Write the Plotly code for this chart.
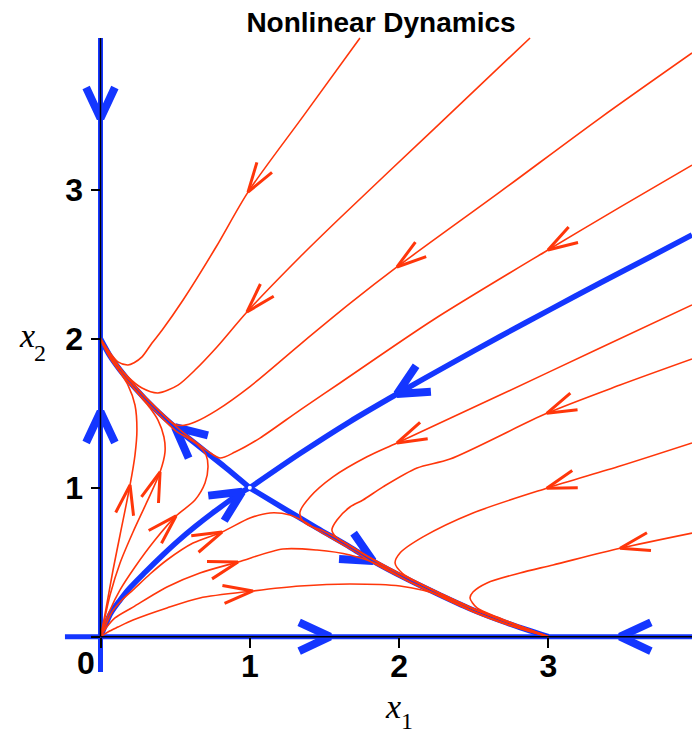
import math
import plotly.graph_objects as go

# ---------------------------------------------------------------------------
# Figure geometry and axis ranges (x1 horizontal, x2 vertical)
# ---------------------------------------------------------------------------
W, H = 692, 735
X_RANGE = [-0.6731, 3.9618]
Y_RANGE = [-0.6602, 4.2760]

RED = "#ff360a"
BLUE = "#1436ff"

# Tick values / labels
tick_vals = [0, 1, 2, 3]
tick_text = ["", "1", "2", "3"]

# Invariant axes (blue) and plain axis lines (black)
axis_blue_x1 = [-0.238, 3.962]
axis_blue_x2 = [-0.237, 4.021]
axis_black_x1 = [0.0, 3.962]
axis_black_x2 = [0.0, 4.021]

# Flow direction markers on the axes
axis_arrow_x1 = [0.0, 0.0, 1.537, 3.480]
axis_arrow_x2 = [3.481, 1.511, 0.0, 0.0]
axis_arrow_dx = [0, 0, 1, -1]
axis_arrow_dy = [-1, 1, 0, 0]

# ---------------------------------------------------------------------------
# Separatrices of the saddle at (1, 1)
# ---------------------------------------------------------------------------
sep_in_upper_x1 = [3.962, 3.681, 3.346, 3.011, 2.676, 2.341, 1.986, 1.671, 1.336, 1.0]
sep_in_upper_x2 = [2.698, 2.550, 2.375, 2.197, 2.016, 1.831, 1.630, 1.445, 1.230, 1.0]
sep_in_lower_x1 = [0.0, 0.030, 0.070, 0.131, 0.184, 0.298, 0.412, 0.519, 0.633, 0.747, 0.854, 0.948, 1.0]
sep_in_lower_x2 = [0.0, 0.072, 0.160, 0.246, 0.314, 0.432, 0.544, 0.643, 0.739, 0.828, 0.907, 0.973, 1.0]
sep_out_left_x1 = [1.0, 0.834, 0.666, 0.499, 0.365, 0.231, 0.131, 0.064, 0.0]
sep_out_left_x2 = [1.0, 1.139, 1.273, 1.408, 1.529, 1.670, 1.791, 1.885, 2.0]
sep_out_right_x1 = [1.0, 1.222, 1.450, 1.671, 1.825, 2.053, 2.274, 2.495, 2.723, 3.0]
sep_out_right_x2 = [1.0, 0.865, 0.730, 0.602, 0.508, 0.387, 0.280, 0.179, 0.092, 0.0]

saddle_x1 = [1.0]
saddle_x2 = [1.0]

# ---------------------------------------------------------------------------
# Sample trajectories (red), listed in the direction of motion
# ---------------------------------------------------------------------------
red_a_x1 = [1.738, 1.363, 0.988, 0.774, 0.553, 0.412, 0.345, 0.278, 0.225, 0.184, 0.117, 0.050, 0.0]
red_a_x2 = [4.021, 3.503, 2.986, 2.617, 2.261, 2.058, 1.972, 1.879, 1.840, 1.825, 1.846, 1.926, 2.0]

red_b_x1 = [2.877, 2.240, 1.604, 1.336, 0.981, 0.780, 0.633, 0.519, 0.385, 0.278, 0.184, 0.097, 0.0]
red_b_x2 = [4.021, 3.416, 2.812, 2.550, 2.181, 1.946, 1.791, 1.690, 1.637, 1.670, 1.745, 1.850, 2.0]

red_c_x1 = [3.962, 3.346, 2.676, 1.986, 1.671, 1.336, 1.001, 0.780, 0.633, 0.560, 0.499, 0.365, 0.231, 0.131, 0.064, 0.0]
red_c_x2 = [3.920, 3.483, 2.987, 2.483, 2.238, 1.962, 1.680, 1.522, 1.442, 1.420, 1.425, 1.545, 1.683, 1.803, 1.895, 2.0]

red_d_x1 = [3.962, 3.480, 2.997, 2.227, 1.604, 1.336, 1.068, 0.901, 0.800, 0.720, 0.633, 0.520, 0.400, 0.280, 0.170, 0.080, 0.0]
red_d_x2 = [3.167, 2.885, 2.597, 2.127, 1.704, 1.522, 1.334, 1.240, 1.200, 1.245, 1.310, 1.400, 1.510, 1.630, 1.755, 1.870, 2.0]

red_e_x1 = [3.962, 3.346, 2.676, 1.986, 1.785, 1.557, 1.403, 1.336, 1.350, 1.390, 1.490, 1.671, 1.825, 2.053, 2.274, 2.495, 2.723, 3.0]
red_e_x2 = [2.228, 1.939, 1.623, 1.301, 1.208, 1.073, 0.938, 0.837, 0.784, 0.750, 0.712, 0.612, 0.518, 0.397, 0.290, 0.188, 0.100, 0.0]

red_f_x1 = [3.962, 3.480, 2.989, 2.341, 2.120, 1.892, 1.758, 1.671, 1.584, 1.550, 1.577, 1.638, 1.825, 2.053, 2.274, 2.495, 2.723, 3.0]
red_f_x2 = [1.865, 1.690, 1.500, 1.193, 1.133, 1.006, 0.918, 0.871, 0.784, 0.717, 0.670, 0.629, 0.520, 0.399, 0.292, 0.190, 0.102, 0.0]

red_g_x1 = [3.962, 3.480, 2.989, 2.495, 2.160, 2.006, 1.973, 2.020, 2.160, 2.274, 2.495, 2.723, 3.0]
red_g_x2 = [1.301, 1.146, 0.997, 0.831, 0.670, 0.562, 0.495, 0.428, 0.347, 0.290, 0.188, 0.100, 0.0]

red_h_x1 = [3.962, 3.480, 3.031, 2.810, 2.589, 2.495, 2.475, 2.522, 2.656, 2.723, 2.850, 3.0]
red_h_x2 = [0.696, 0.594, 0.482, 0.428, 0.361, 0.300, 0.260, 0.193, 0.132, 0.106, 0.056, 0.0]

red_o1_x1 = [0.0, 0.023, 0.050, 0.084, 0.131, 0.198, 0.231, 0.244, 0.231, 0.184, 0.131, 0.077, 0.030, 0.0]
red_o1_x2 = [0.0, 0.112, 0.260, 0.448, 0.683, 1.019, 1.220, 1.388, 1.556, 1.690, 1.775, 1.855, 1.935, 2.0]

red_o2_x1 = [0.0, 0.023, 0.064, 0.131, 0.218, 0.311, 0.399, 0.432, 0.425, 0.385, 0.332, 0.265, 0.131, 0.064, 0.0]
red_o2_x2 = [0.0, 0.099, 0.280, 0.495, 0.703, 0.905, 1.106, 1.240, 1.341, 1.455, 1.536, 1.617, 1.778, 1.873, 2.0]

red_o3_x1 = [0.0, 0.023, 0.064, 0.131, 0.231, 0.365, 0.506, 0.633, 0.700, 0.720, 0.707, 0.653, 0.573, 0.506, 0.365, 0.231, 0.131, 0.064, 0.0]
red_o3_x2 = [0.0, 0.072, 0.179, 0.314, 0.468, 0.649, 0.811, 0.918, 1.032, 1.140, 1.220, 1.287, 1.341, 1.381, 1.517, 1.658, 1.779, 1.873, 2.0]

red_o4_x1 = [0.0, 0.030, 0.077, 0.144, 0.218, 0.332, 0.445, 0.620, 0.814, 1.001, 1.135, 1.269, 1.370, 1.450, 1.671, 1.825, 2.053, 2.274, 2.495, 2.723, 3.0]
red_o4_x2 = [0.0, 0.065, 0.166, 0.246, 0.314, 0.421, 0.515, 0.629, 0.703, 0.797, 0.831, 0.817, 0.770, 0.717, 0.590, 0.497, 0.377, 0.271, 0.170, 0.084, 0.0]

red_o5_x1 = [0.0, 0.037, 0.097, 0.218, 0.445, 0.666, 0.921, 1.222, 1.450, 1.671, 1.852, 2.053, 2.274, 2.495, 2.723, 3.0]
red_o5_x2 = [0.0, 0.058, 0.126, 0.199, 0.334, 0.428, 0.502, 0.589, 0.582, 0.549, 0.488, 0.377, 0.271, 0.170, 0.084, 0.0]

red_o6_x1 = [0.0, 0.050, 0.117, 0.218, 0.445, 0.666, 1.021, 1.336, 1.671, 2.006, 2.274, 2.495, 2.723, 3.0]
red_o6_x2 = [0.0, 0.032, 0.065, 0.112, 0.193, 0.260, 0.307, 0.340, 0.354, 0.340, 0.277, 0.168, 0.082, 0.0]

# (x1, x2, index of the point carrying the direction arrow)
red_curves = [
    (red_a_x1, red_a_x2, 2), (red_b_x1, red_b_x2, 4),
    (red_c_x1, red_c_x2, 3), (red_d_x1, red_d_x2, 2),
    (red_e_x1, red_e_x2, 3), (red_f_x1, red_f_x2, 2),
    (red_g_x1, red_g_x2, 2), (red_h_x1, red_h_x2, 1),
    (red_o1_x1, red_o1_x2, 5), (red_o2_x1, red_o2_x2, 6),
    (red_o3_x1, red_o3_x2, 6), (red_o4_x1, red_o4_x2, 8),
    (red_o5_x1, red_o5_x2, 6), (red_o6_x1, red_o6_x2, 6),
]
blue_curves = [
    (sep_in_upper_x1, sep_in_upper_x2, 6), (sep_in_lower_x1, sep_in_lower_x2, 11),
    (sep_out_left_x1, sep_out_left_x2, 3), (sep_out_right_x1, sep_out_right_x2, 4),
]

# pixels per data unit
SX = W / (X_RANGE[1] - X_RANGE[0])
SY = H / (Y_RANGE[1] - Y_RANGE[0])


def chevron(tx, ty, dx, dy, length, half_angle):
    """Open arrowhead with its tip at (tx, ty) pointing along (dx, dy)."""
    px, py = dx * SX, dy * SY
    n = math.hypot(px, py)
    bx, by = -px / n, -py / n
    a = math.radians(half_angle)
    xs, ys = [], []
    for s in (1, -1):
        c, si = math.cos(s * a), math.sin(s * a)
        rx, ry = bx * c - by * si, bx * si + by * c
        xs.append(tx + rx * length / SX)
        ys.append(ty + ry * length / SY)
    return [xs[0], tx, xs[1], None], [ys[0], ty, ys[1], None]


def curve_arrow(xs, ys, i, length, half_angle):
    j0, j1 = max(i - 1, 0), min(i + 1, len(xs) - 1)
    return chevron(xs[i], ys[i], xs[j1] - xs[j0], ys[j1] - ys[j0], length, half_angle)


fig = go.Figure()

# blue invariant axes
fig.add_trace(go.Scatter(x=axis_blue_x1, y=[0, 0], mode="lines",
                         line=dict(color=BLUE, width=5), hoverinfo="skip"))
fig.add_trace(go.Scatter(x=[0, 0], y=axis_blue_x2, mode="lines",
                         line=dict(color=BLUE, width=5), hoverinfo="skip"))

# separatrices
for xs, ys, _ in blue_curves:
    fig.add_trace(go.Scatter(x=xs, y=ys, mode="lines",
                             line=dict(color=BLUE, width=5.5, shape="spline", smoothing=0.8),
                             hoverinfo="skip"))

# blue arrowheads
bx, by = [], []
for xs, ys, i in blue_curves:
    ax, ay = curve_arrow(xs, ys, i, 34, 26)
    bx += ax
    by += ay
for tx, ty, dx, dy in zip(axis_arrow_x1, axis_arrow_x2, axis_arrow_dx, axis_arrow_dy):
    ax, ay = chevron(tx, ty, dx, dy, 34, 25)
    bx += ax
    by += ay
fig.add_trace(go.Scatter(x=bx, y=by, mode="lines",
                         line=dict(color=BLUE, width=8), hoverinfo="skip"))

# red trajectories
for xs, ys, _ in red_curves:
    fig.add_trace(go.Scatter(x=xs, y=ys, mode="lines",
                             line=dict(color=RED, width=1.6, shape="spline", smoothing=0.8),
                             hoverinfo="skip"))

rx, ry = [], []
for xs, ys, i in red_curves:
    ax, ay = curve_arrow(xs, ys, i, 31, 17)
    rx += ax
    ry += ay
fig.add_trace(go.Scatter(x=rx, y=ry, mode="lines",
                         line=dict(color=RED, width=3), hoverinfo="skip"))

# black axis lines
fig.add_trace(go.Scatter(x=axis_black_x1, y=[0, 0], mode="lines",
                         line=dict(color="black", width=1.5), hoverinfo="skip"))
fig.add_trace(go.Scatter(x=[0, 0], y=axis_black_x2, mode="lines",
                         line=dict(color="black", width=1.5), hoverinfo="skip"))

# saddle point
fig.add_trace(go.Scatter(x=saddle_x1, y=saddle_x2, mode="markers",
                         marker=dict(color="white", size=4), hoverinfo="skip"))

tickfont = dict(family="Liberation Sans, Arial, sans-serif", size=32, color="black", weight="bold")
fig.update_xaxes(range=X_RANGE, domain=[0, 1], anchor="free",
                 position=(0 - Y_RANGE[0]) / (Y_RANGE[1] - Y_RANGE[0]),
                 showgrid=False, zeroline=False, showline=False,
                 ticks="outside", ticklen=10, tickwidth=1.5, tickcolor="black",
                 ticklabelstandoff=-9,
                 tickvals=tick_vals, ticktext=tick_text, tickfont=tickfont)
fig.update_yaxes(range=Y_RANGE, domain=[0, 1], anchor="free",
                 position=(0 - X_RANGE[0]) / (X_RANGE[1] - X_RANGE[0]),
                 showgrid=False, zeroline=False, showline=False,
                 ticks="outside", ticklen=9, tickwidth=1.5, tickcolor="black",
                 ticklabelstandoff=2,
                 tickvals=tick_vals, ticktext=tick_text, tickfont=tickfont)

serif = "Liberation Serif, Times New Roman, serif"
annotations = [
    dict(text="0", x=86 / W, y=1 - 663 / H, font=tickfont),
    dict(text="<i>x</i>", x=393 / W, y=1 - 706 / H,
         font=dict(family=serif, size=34, color="black")),
    dict(text="1", x=407 / W, y=1 - 721 / H,
         font=dict(family=serif, size=24, color="black")),
    dict(text="<i>x</i>", x=27 / W, y=1 - 336 / H,
         font=dict(family=serif, size=34, color="black")),
    dict(text="2", x=40 / W, y=1 - 353 / H,
         font=dict(family=serif, size=24, color="black")),
]
for a in annotations:
    a.update(xref="paper", yref="paper", xanchor="center", yanchor="middle", showarrow=False)

fig.update_layout(
    width=W, height=H,
    margin=dict(l=0, r=0, t=0, b=0),
    paper_bgcolor="white", plot_bgcolor="white",
    showlegend=False,
    title=dict(text="<b>Nonlinear Dynamics</b>", x=381 / W, xanchor="center",
               y=1 - 22 / H, yanchor="middle",
               font=dict(family="Liberation Sans, Arial, sans-serif", size=28, color="black")),
    annotations=annotations,
)

fig.write_html("out.html")
